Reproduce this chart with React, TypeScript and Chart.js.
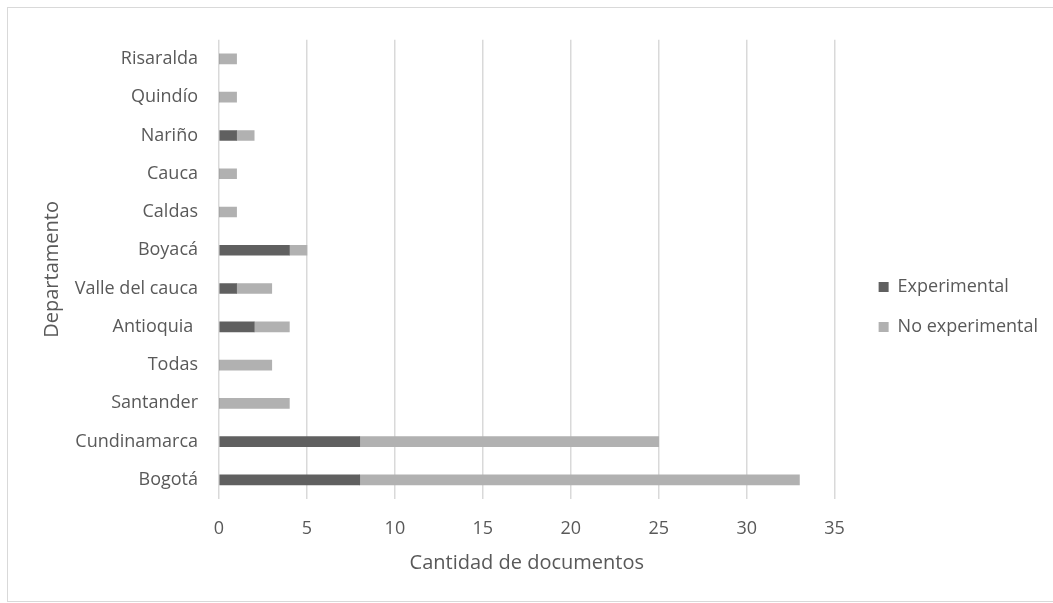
import { useEffect, useRef } from 'react';
import { Chart, registerables } from 'chart.js';

Chart.register(...registerables);

const categories = ['Risaralda', 'Quindío', 'Nariño', 'Cauca', 'Caldas', 'Boyacá', 'Valle del cauca', 'Antioquia ', 'Todas', 'Santander', 'Cundinamarca', 'Bogotá'];
const experimental = [0, 0, 1, 0, 0, 4, 1, 2, 0, 0, 8, 8];
const noExperimental = [1, 1, 1, 1, 1, 1, 2, 2, 3, 4, 17, 25];
const seriesNames = ['Experimental', 'No experimental'];
const xMin = 0;
const xMax = 35;
const xStep = 5;
const xTitle = 'Cantidad de documentos';
const yTitle = 'Departamento';

const TEXT = '#595959';
const GRID = '#d9d9d9';
const FONT = 'Open Sans';

export default function App() {
  const ref = useRef<HTMLCanvasElement | null>(null);
  useEffect(() => {
    if (!ref.current) return;
    const chart = new Chart(ref.current, {
      type: 'bar',
      data: {
        labels: categories,
        datasets: [
          { label: seriesNames[0], data: experimental, backgroundColor: '#606060', borderWidth: 0, barThickness: 10 },
          { label: seriesNames[1], data: noExperimental, backgroundColor: '#b1b1b1', borderWidth: 0, barThickness: 10 },
        ],
      },
      options: {
        indexAxis: 'y',
        responsive: false,
        animation: false,
        layout: { padding: { top: 23, bottom: 18, left: 0, right: 4 } },
        plugins: {
          tooltip: { enabled: false },
          legend: {
            position: 'right',
            maxWidth: 400,
            labels: {
              boxWidth: 10,
              boxHeight: 10,
              padding: 22,
              color: TEXT,
              font: { family: FONT, size: 18 },
            },
          },
        },
        scales: {
          x: {
            stacked: true,
            min: xMin,
            max: xMax,
            ticks: { stepSize: xStep, color: TEXT, font: { family: FONT, size: 18 }, padding: 19 },
            grid: { color: GRID, lineWidth: 1.5, drawTicks: false },
            border: { display: false },
            title: { display: true, text: xTitle, color: TEXT, font: { family: FONT, size: 20 }, padding: { top: 0, bottom: 8 } },
            afterFit: (s: any) => { s.height = 84; },
          },
          y: {
            stacked: true,
            ticks: { color: TEXT, font: { family: FONT, size: 18 }, padding: 21 },
            grid: { display: false, drawTicks: false },
            border: { display: false },
            title: { display: true, text: yTitle, color: TEXT, font: { family: FONT, size: 20 }, padding: { top: 32, bottom: 0 } },
            afterFit: (s: any) => { s.width = 211; },
          },
          gap: {
            type: 'linear',
            position: 'right',
            display: true,
            grid: { display: false, drawTicks: false },
            border: { display: false },
            ticks: { display: false },
            afterFit: (s: any) => { s.width = 22; },
          },
        },
      } as any,
    });
    return () => chart.destroy();
  }, []);

  return (
    <div style={{ position: 'fixed', left: 0, top: 0, width: 1053, height: 603, overflow: 'hidden', background: '#fff' }}>
      <div style={{ position: 'absolute', left: 7, top: 7, width: 1100, height: 595, boxSizing: 'border-box', border: `1px solid ${GRID}` }} />
      <canvas ref={ref} width={1044} height={593} style={{ position: 'absolute', left: 8, top: 8, width: 1044, height: 593 }} />
    </div>
  );
}
